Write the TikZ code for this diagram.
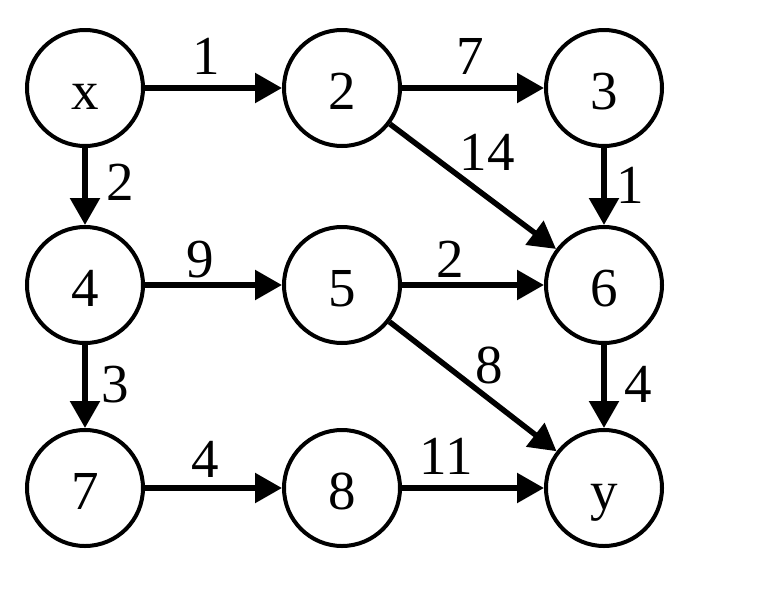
\documentclass[tikz,border=0pt]{standalone}
\usepackage{fontspec}
\setmainfont{Liberation Serif}
\usetikzlibrary{arrows.meta}
\begin{document}
\begin{tikzpicture}[x=1pt,y=-1pt,
  vert/.style={circle,draw,line width=4pt,minimum size=116pt,inner sep=0pt,text height=42pt,text depth=0pt,font=\fontsize{55}{60}\selectfont},
  arc/.style={line width=5.5pt,-{Triangle[length=27pt,width=29pt]}},
  lbl/.style={inner sep=0pt,font=\fontsize{55}{60}\selectfont}]
\useasboundingbox (0,0) rectangle (758,592);
\node[vert] (x) at (85,88) {x};
\node[vert] (n2) at (342,88) {2};
\node[vert] (n3) at (604,88) {3};
\node[vert] (n4) at (85,285) {4};
\node[vert] (n5) at (342,285) {5};
\node[vert] (n6) at (604,285) {6};
\node[vert] (n7) at (85,488) {7};
\node[vert] (n8) at (342,488) {8};
\node[vert] (y) at (604,488) {y};
\draw[arc] (x) -- node[lbl,pos=0.45,yshift=32pt]{1} (n2);
\draw[arc] (n2) -- node[lbl,pos=0.48,yshift=32pt]{7} (n3);
\draw[arc] (n4) -- node[lbl,pos=0.40,yshift=25pt]{9} (n5);
\draw[arc] (n5) -- node[lbl,pos=0.34,yshift=26pt]{2} (n6);
\draw[arc] (n7) -- node[lbl,pos=0.44,yshift=29pt]{4} (n8);
\draw[arc] (n8) -- node[lbl,pos=0.31,yshift=32pt]{11} (y);
\draw[arc] (x) -- node[lbl,pos=0.44,xshift=35pt]{2} (n4);
\draw[arc] (n4) -- node[lbl,pos=0.48,xshift=30pt]{3} (n7);
\draw[arc] (n3) -- node[lbl,pos=0.49,xshift=26pt]{1} (n6);
\draw[arc] (n6) -- node[lbl,pos=0.48,xshift=34pt]{4} (y);
\draw[arc] (n2) -- node[lbl,pos=0.55,xshift=6pt,yshift=40pt]{14} (n6);
\draw[arc] (n5) -- node[lbl,pos=0.6,yshift=34pt]{8} (y);
\end{tikzpicture}
\end{document}
